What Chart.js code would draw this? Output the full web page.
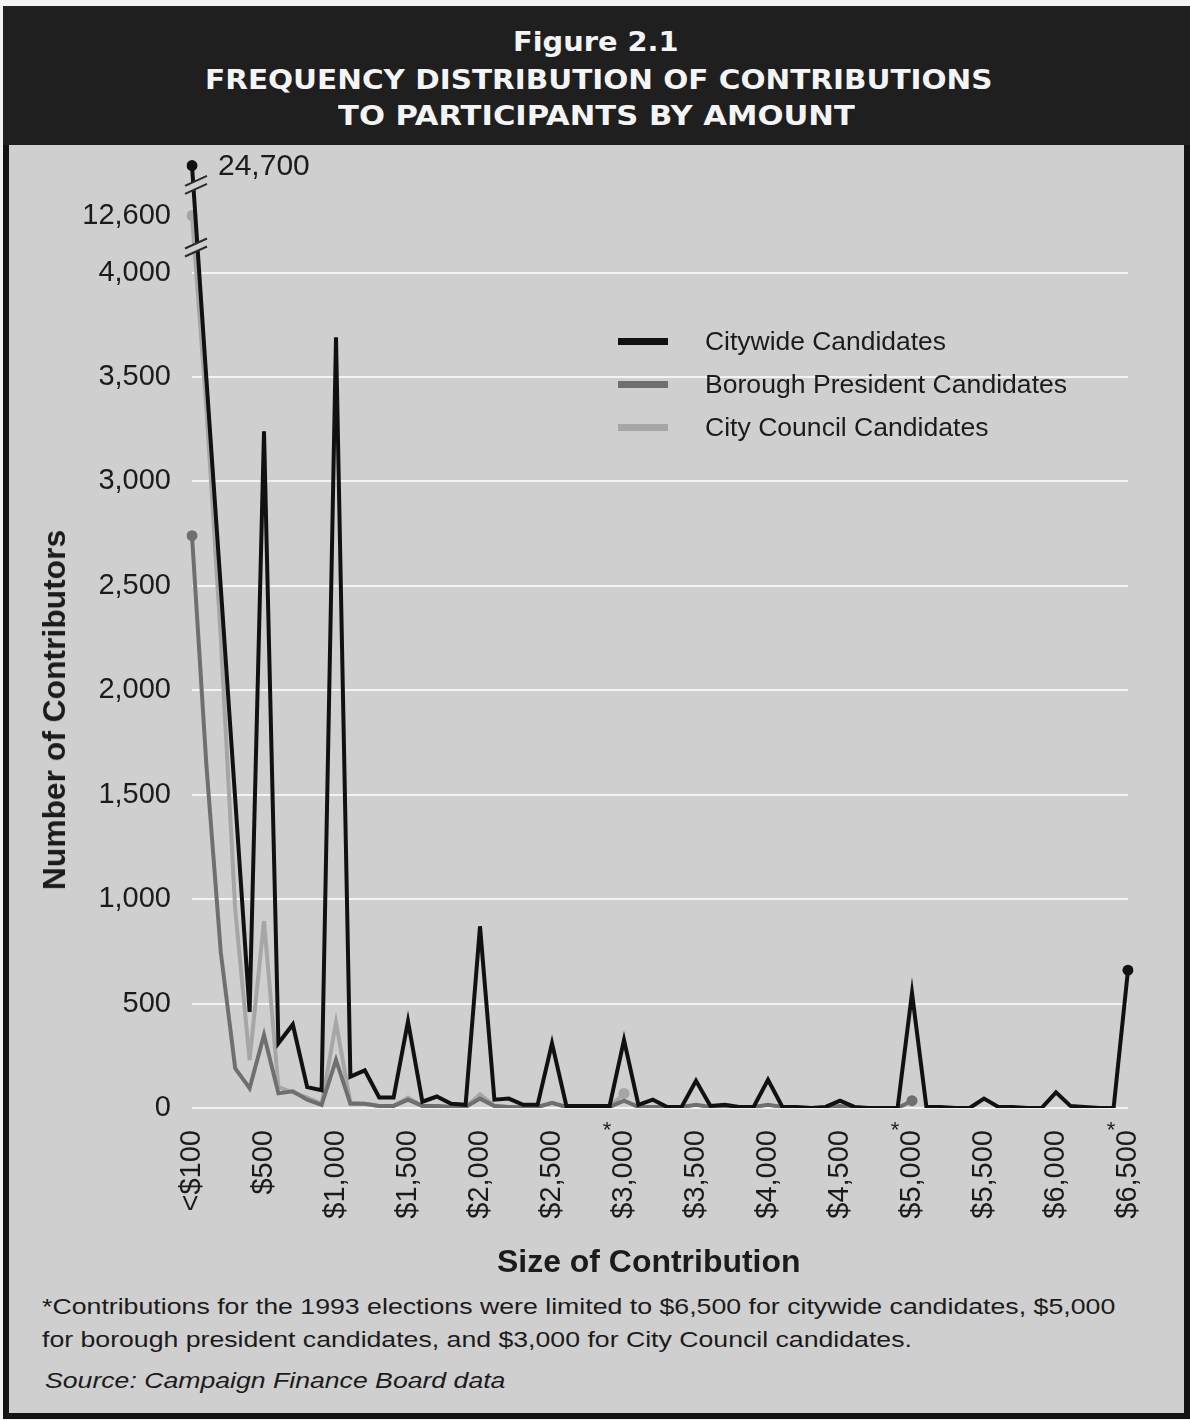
<!DOCTYPE html>
<html><head><meta charset="utf-8">
<script src="https://cdn.jsdelivr.net/npm/chart.js@4.4.1/dist/chart.umd.min.js"></script>
<style>
html,body{margin:0;padding:0;width:1190px;height:1420px;overflow:hidden;background:#f2f2f2;}
#frame{position:absolute;left:3px;top:6px;width:1187px;height:1413px;box-sizing:border-box;border:6px solid #131313;background:#cfcfcf;}
#band{position:absolute;left:3px;top:6px;width:1187px;height:139px;background:#1f1f1f;}
.tx{position:absolute;white-space:nowrap;line-height:30px;height:30px;transform-origin:0 50%;}
.ttl{color:#f4f4f4;font-family:"DejaVu Sans Condensed","DejaVu Sans",sans-serif;font-weight:bold;font-size:26px;}
.lab{color:#1b1b1b;font-family:"Liberation Sans",Arial,sans-serif;}
#wrap{position:absolute;left:0;top:113px;width:1190px;height:1170px;}
.sw{position:absolute;left:618px;width:50px;height:7px;}
</style></head><body>
<div id="frame"></div><div id="band"></div>
<div class="tx ttl" style="left:513px;top:27px" data-w="165">Figure 2.1</div>
<div class="tx ttl" style="left:205px;top:65px" data-w="787">FREQUENCY DISTRIBUTION OF CONTRIBUTIONS</div>
<div class="tx ttl" style="left:338px;top:101px" data-w="517">TO PARTICIPANTS BY AMOUNT</div>
<div id="wrap"><canvas id="c"></canvas></div>

<div class="sw" style="top:338px;background:#111"></div>
<div class="sw" style="top:381px;background:#6f6f6f"></div>
<div class="sw" style="top:424px;background:#a6a6a6"></div>
<div class="tx lab" style="left:705px;top:326px;font-size:26px" data-w="241">Citywide Candidates</div>
<div class="tx lab" style="left:705px;top:369px;font-size:26px" data-w="362">Borough President Candidates</div>
<div class="tx lab" style="left:705px;top:412px;font-size:26px" data-w="283">City Council Candidates</div>

<div id="ytitle" class="lab" style="position:absolute;left:55px;top:710px;white-space:nowrap;font-weight:bold;font-size:31px;line-height:34px;transform-origin:50% 50%;" data-w="360" data-rot="1">Number of Contributors</div>
<div class="tx lab" style="left:497px;top:1247px;font-weight:bold;font-size:31px" data-w="303">Size of Contribution</div>

<div class="tx lab" style="left:42px;top:1292px;font-size:22px" data-w="1073">*Contributions for the 1993 elections were limited to $6,500 for citywide candidates, $5,000</div>
<div class="tx lab" style="left:42px;top:1325px;font-size:22px" data-w="870">for borough president candidates, and $3,000 for City Council candidates.</div>
<div class="tx lab" style="left:45px;top:1366px;font-size:22px;font-style:italic" data-w="460">Source: Campaign Finance Board data</div>

<script>
// ---------------- data ----------------
const categories = ["<$100","$100","$200","$300","$400","$500","$600","$700","$800","$900","$1,000","$1,100","$1,200","$1,300","$1,400","$1,500","$1,600","$1,700","$1,800","$1,900","$2,000","$2,100","$2,200","$2,300","$2,400","$2,500","$2,600","$2,700","$2,800","$2,900","$3,000","$3,100","$3,200","$3,300","$3,400","$3,500","$3,600","$3,700","$3,800","$3,900","$4,000","$4,100","$4,200","$4,300","$4,400","$4,500","$4,600","$4,700","$4,800","$4,900","$5,000","$5,100","$5,200","$5,300","$5,400","$5,500","$5,600","$5,700","$5,800","$5,900","$6,000","$6,100","$6,200","$6,300","$6,400","$6,500"];
const tickLabels = ["<$100","$500","$1,000","$1,500","$2,000","$2,500","$3,000","$3,500","$4,000","$4,500","$5,000","$5,500","$6,000","$6,500"];
const limitLabels = ["$3,000","$5,000","$6,500"];
const citywide = [24700,3490,2490,1480,460,3240,310,400,100,85,3690,150,180,50,50,415,30,55,20,15,870,40,45,15,15,310,10,10,10,10,325,15,40,5,5,130,10,15,5,5,135,5,5,0,5,35,5,0,0,0,550,5,5,0,0,45,5,5,0,0,75,10,5,0,0,660];
const borough = [2740,1640,745,190,95,350,70,80,40,15,230,20,20,10,10,40,10,10,5,5,45,10,5,5,5,25,5,5,5,5,35,5,5,5,5,15,5,5,5,5,15,5,0,0,0,10,0,0,0,0,35];
const council = [12600,3350,2250,950,230,895,100,75,50,20,410,25,20,10,10,50,10,10,5,5,65,10,5,5,5,25,5,5,5,5,70];
const yTickValues = [0,500,1000,1500,2000,2500,3000,3500,4000];
const yBreakTicks = [12600];
const seriesNames = ["Citywide Candidates","Borough President Candidates","City Council Candidates"];

// broken axis: linear to 4,000, compressed segments above
const LIN_MAX = 4000;
function toAxis(v){
  if (v <= LIN_MAX) return v;
  if (v <= 12600) return LIN_MAX + (v - LIN_MAX) / (12600 - LIN_MAX) * 273;
  return 4273 + (v - 12600) / (24700 - 12600) * 239;
}

const BG = '#cfcfcf';
const colors = ['#111111','#6f6f6f','#a6a6a6'];
function endDots(ctx){ const n = ctx.dataset.data.length; return (ctx.dataIndex===0 || ctx.dataIndex===n-1) ? 5.5 : 0; }

const decor = {
  id:'decor',
  afterDatasetsDraw(chart){
    const {ctx, scales:{x, y}} = chart;
    ctx.save();
    // axis break marks
    const bx = x.getPixelForValue(0) + 4;
    for (const v of [4120, 4420]) {
      const yc = y.getPixelForValue(v);
      const hw = 11, dy = 5, g = 8;
      ctx.fillStyle = BG;
      ctx.beginPath();
      ctx.moveTo(bx-hw, yc-g/2+dy); ctx.lineTo(bx+hw, yc-g/2-dy);
      ctx.lineTo(bx+hw, yc+g/2-dy); ctx.lineTo(bx-hw, yc+g/2+dy);
      ctx.closePath(); ctx.fill();
      ctx.strokeStyle = '#2a2a2a'; ctx.lineWidth = 2;
      ctx.beginPath();
      ctx.moveTo(bx-hw, yc-g/2+dy); ctx.lineTo(bx+hw, yc-g/2-dy);
      ctx.moveTo(bx-hw, yc+g/2+dy); ctx.lineTo(bx+hw, yc+g/2-dy);
      ctx.stroke();
    }
    // value label of the off-scale point
    const p = chart.getDatasetMeta(0).data[0];
    ctx.fillStyle = '#1b1b1b';
    ctx.font = '30px "Liberation Sans", Arial, sans-serif';
    ctx.textAlign = 'left'; ctx.textBaseline = 'middle';
    ctx.fillText(citywide[0].toLocaleString('en-US'), p.x + 26, p.y + 1);
    // asterisks on limit ticks
    ctx.font = '22px "Liberation Sans", Arial, sans-serif';
    ctx.textAlign = 'center'; ctx.textBaseline = 'top';
    limitLabels.forEach(l => {
      const i = categories.indexOf(l);
      ctx.fillText('*', x.getPixelForValue(i) - 17, y.bottom + 12);
    });
    ctx.restore();
  }
};

const chart = new Chart(document.getElementById('c'), {
  type: 'line',
  data: {
    labels: categories,
    datasets: [citywide, borough, council].map((d, k) => ({
      label: seriesNames[k],
      data: d.map(toAxis),
      borderColor: colors[k],
      backgroundColor: colors[k],
      borderWidth: 4,
      tension: 0,
      pointRadius: endDots,
      pointHoverRadius: endDots,
      pointBorderWidth: 0,
      pointBackgroundColor: colors[k],
      borderJoinStyle: 'miter'
    }))
  },
  options: {
    responsive: true, maintainAspectRatio: false, animation: false,
    layout: { padding: { left: 20, top: 31, right: 62, bottom: 9 } },
    plugins: { legend: { display: false }, tooltip: { enabled: false } },
    scales: {
      x: {
        type: 'category',
        grid: { display: false, drawTicks: false },
        border: { display: false },
        afterFit(s){ s.height = 166; },
        ticks: {
          autoSkip: false, minRotation: 90, maxRotation: 90, padding: 22,
          color: '#1b1b1b',
          font: { family: '"Liberation Sans", Arial, sans-serif', size: 29 },
          callback: (v, i) => (i % 5 === 0 ? tickLabels[i / 5] : '')
        }
      },
      y: {
        min: 0, max: 4580,
        afterFit(s){ s.width = 172; },
        afterBuildTicks(s){ s.ticks = yTickValues.concat(yBreakTicks).map(v => ({ value: toAxis(v) })); },
        grid: {
          drawTicks: false, lineWidth: 2,
          color: c => (c.tick && c.tick.value <= LIN_MAX ? '#f3f3f3' : 'rgba(0,0,0,0)')
        },
        border: { display: false },
        ticks: {
          padding: 21, color: '#1b1b1b',
          font: { family: '"Liberation Sans", Arial, sans-serif', size: 29 },
          callback: v => {
            const b = yBreakTicks.find(t => toAxis(t) === v);
            return (b !== undefined ? b : v).toLocaleString('en-US');
          }
        }
      }
    }
  },
  plugins: [decor]
});

// fit HTML text widths to the reference
function fit(){
  document.querySelectorAll('[data-w]').forEach(el => {
    const w = el.offsetWidth, t = +el.dataset.w, s = t / w;
    if (el.dataset.rot) el.style.transform = `translate(-50%,-50%) rotate(-90deg) scaleX(${s})`;
    else el.style.transform = `scaleX(${s})`;
  });
}
fit();
if (document.fonts && document.fonts.ready) document.fonts.ready.then(fit);
</script>
</body></html>
